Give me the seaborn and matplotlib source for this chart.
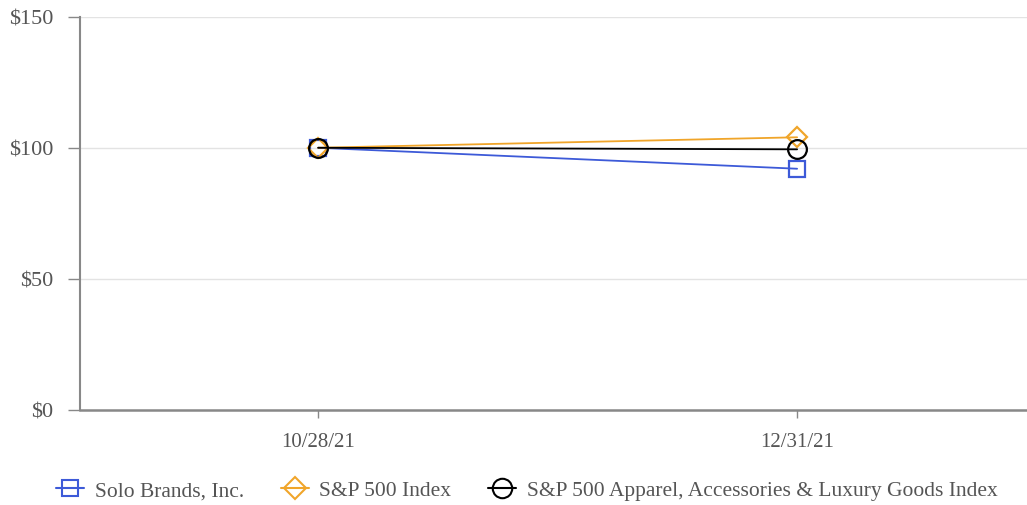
import matplotlib
matplotlib.use("Agg")
import matplotlib.pyplot as plt
import seaborn as sns
import pandas as pd
from matplotlib.lines import Line2D

# Cumulative total return values (USD, base $100)
dates = ["10/28/21", "12/31/21"]
solo_brands = [100.0, 92.0]
sp500 = [100.0, 104.0]
sp500_apparel = [100.0, 99.4]
y_ticks = [0, 50, 100, 150]
y_tick_labels = ["$0", "$50", "$100", "$150"]

series_names = ["Solo Brands, Inc.", "S&P 500 Index",
                "S&P 500 Apparel, Accessories & Luxury Goods Index"]
series_values = [solo_brands, sp500, sp500_apparel]
colors = ["#3d5ad8", "#f0a52a", "#000000"]
markers = ["s", "D", "o"]
msizes = [11.5, 10.5, 13.5]
legend_msizes = [12, 11.5, 14]

sns.set_theme(style="white")
plt.rcParams["font.family"] = ["Liberation Serif", "DejaVu Serif"]

fig = plt.figure(figsize=(10.27, 5.06), dpi=100)
ax = fig.add_axes([0.078, 0.188, 0.922, 0.777])

rows = []
for name, vals in zip(series_names, series_values):
    for i, v in enumerate(vals):
        rows.append({"pos": i, "value": v, "series": name})
df = pd.DataFrame(rows)

for name, col, mk, ms in zip(series_names, colors, markers, msizes):
    sub = df[df["series"] == name]
    sns.lineplot(data=sub, x="pos", y="value", ax=ax, color=col, linewidth=1.3,
                 marker=mk, markersize=ms, markerfacecolor="none",
                 markeredgecolor=col, markeredgewidth=1.6, legend=False, zorder=3)

ax.set_xlim(-0.497, 1.48)
ax.set_ylim(0, 150)
ax.set_xticks([0, 1])
ax.set_xticklabels(dates)
ax.set_yticks(y_ticks)
ax.set_yticklabels(y_tick_labels)
ax.set_xlabel("")
ax.set_ylabel("")

ax.grid(axis="y", color="#e3e3e3", linewidth=1)
ax.grid(axis="x", visible=False)
for side in ["top", "right"]:
    ax.spines[side].set_visible(False)
ax.spines["left"].set_color("#888888")
ax.spines["left"].set_linewidth(1.5)
ax.spines["bottom"].set_color("#888888")
ax.spines["bottom"].set_linewidth(1.8)
ax.tick_params(axis="both", which="major", width=1.0, color="#888888",
               labelcolor="#555555", direction="out", left=True, bottom=True)
ax.tick_params(axis="x", length=6, pad=10, labelsize=15)
ax.tick_params(axis="y", length=8.6, pad=10.5, labelsize=16)

handles = [Line2D([0], [0], color=c, marker=m, markersize=s, markerfacecolor="none",
                  markeredgecolor=c, markeredgewidth=1.5, linewidth=1.5)
           for c, m, s in zip(colors, markers, legend_msizes)]
leg = fig.legend(handles, series_names, loc="center", bbox_to_anchor=(0.513, 0.0296),
                 ncol=3, frameon=False, fontsize=15.5, handlelength=1.3, handletextpad=0.5,
                 columnspacing=1.7, borderpad=0, borderaxespad=0)
for t in leg.get_texts():
    t.set_color("#555555")

fig.savefig("out.png", dpi=100)
